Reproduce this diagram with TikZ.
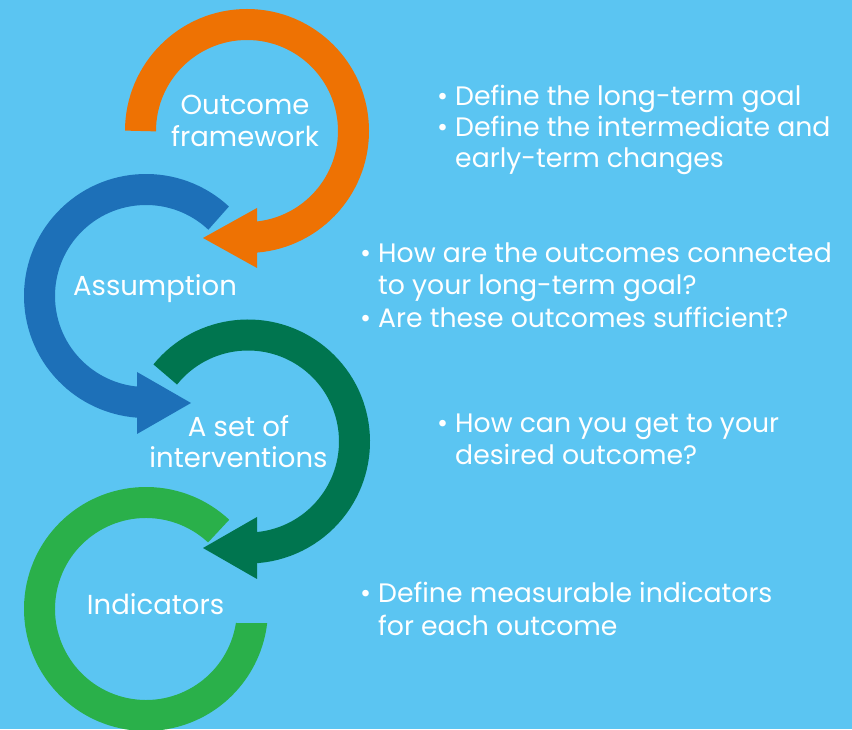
\documentclass[tikz,border=0pt]{standalone}
\usepackage{fontspec}
\setmainfont{Poppins}
\definecolor{bg}{HTML}{5BC5F2}
\definecolor{ora}{HTML}{EE7203}
\definecolor{blu}{HTML}{1D70B8}
\definecolor{dgr}{HTML}{00754F}
\definecolor{lgr}{HTML}{2AB04A}
\newcommand\bul{\llap{\textbullet\hspace{7pt}}}
\begin{document}
\begin{tikzpicture}[x=1pt,y=1pt,
  txt/.style={text=white, inner sep=0pt, font=\fontsize{26.7}{30}\selectfont},
  lab/.style={text=white, inner sep=0pt, font=\fontsize{27.5}{30}\selectfont},
  band/.style={line width=31pt}]
\fill[bg] (0,0) rectangle (852,729);
\useasboundingbox (0,0) rectangle (852,729);
% centres
\coordinate (co) at (247,598);
\coordinate (cb) at (146,433);
\coordinate (cd) at (248,287.5);
\coordinate (cl) at (146,120);
% orange
\draw[band,ora] ([shift={(180:106.5)}]co) arc[start angle=180,end angle=-88,radius=106.5];
\fill[ora] (257,521) -- (257,461) -- (203,491) -- cycle;
% blue
\draw[band,blu] ([shift={(47:106.5)}]cb) arc[start angle=47,end angle=268,radius=106.5];
\fill[blu] (137,357) -- (137,295) -- (191,326) -- cycle;
% dark green
\draw[band,dgr] ([shift={(141:106.5)}]cd) arc[start angle=141,end angle=-88,radius=106.5];
\fill[dgr] (257,212) -- (257,150) -- (203,181) -- cycle;
% light green
\fill[lgr] ([shift={(47:122)}]cl) arc[start angle=47,end angle=353.4,radius=122]
  -- ([shift={(351.15:91)}]cl) arc[start angle=351.15,end angle=47,radius=91] -- cycle;
% labels
\node[lab,anchor=base] (l1a) at (245,614) {Outcome};
\node[lab,anchor=base] (l1b) at (245,582) {framework};
\node[lab,anchor=base] (l2) at (155,433) {Assumption};
\node[lab,anchor=base] (l3a) at (238.5,292) {A set of};
\node[lab,anchor=base] (l3b) at (238.5,261) {interventions};
\node[lab,anchor=base] (l4) at (155.5,114) {Indicators};
% bullets
\node[txt,anchor=base west] (b1a) at (455,623) {\bul Define the long-term goal};
\node[txt,anchor=base west] (b1b) at (455,592) {\bul Define the intermediate and};
\node[txt,anchor=base west] (b1c) at (455,561) {early-term changes};
\node[txt,anchor=base west] (b2a) at (378,466) {\bul How are the outcomes connected};
\node[txt,anchor=base west] (b2b) at (378,434) {to your long-term goal?};
\node[txt,anchor=base west] (b2c) at (378,401) {\bul Are these outcomes sufficient?};
\node[txt,anchor=base west] (b3a) at (455,296) {\bul How can you get to your};
\node[txt,anchor=base west] (b3b) at (455,264) {desired outcome?};
\node[txt,anchor=base west] (b4a) at (378,126) {\bul Define measurable indicators};
\node[txt,anchor=base west] (b4b) at (378,94) {for each outcome};
\end{tikzpicture}
\end{document}
